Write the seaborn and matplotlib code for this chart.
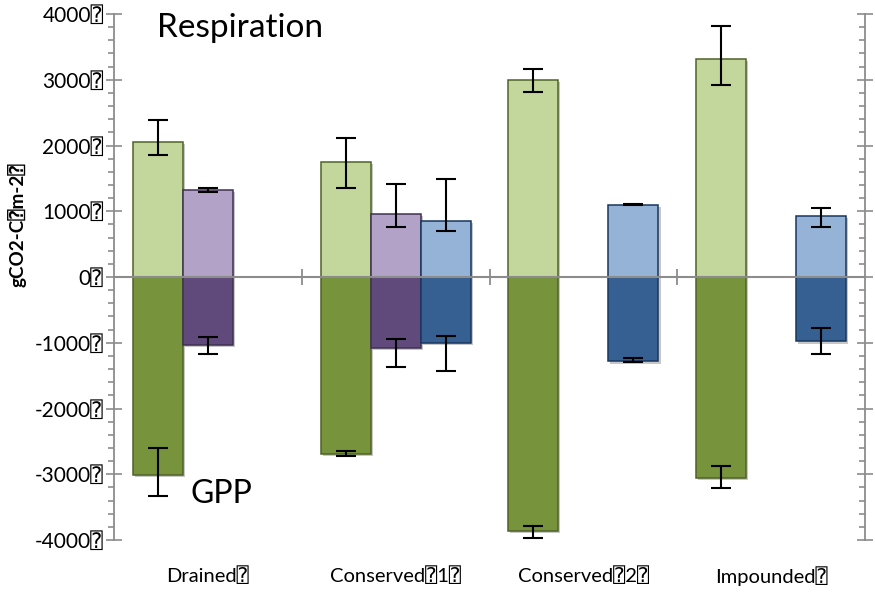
import numpy as np
import pandas as pd
import matplotlib
matplotlib.use("Agg")
import matplotlib.pyplot as plt
import matplotlib.patheffects as pe
from matplotlib.ticker import MultipleLocator, NullFormatter
from matplotlib.colors import to_hex
import seaborn as sns

nan = np.nan

# ---- data ----
categories = ["Drained", "Conserved 1", "Conserved 2", "Impounded"]
cat_labels = ["Drained\u2370", "Conserved\u23701\u2370", "Conserved\u23702\u2370", "Impounded\u2370"]
series = ["green", "purple", "blue"]

# Respiration (positive)
resp_green = [2050, 1745, 3000, 3310]
resp_green_lo = [1855, 1350, 2815, 2920]
resp_green_hi = [2390, 2110, 3170, 3820]
resp_purple = [1320, 955, nan, nan]
resp_purple_lo = [1295, 765, nan, nan]
resp_purple_hi = [1355, 1410, nan, nan]
resp_blue = [nan, 850, 1100, 930]
resp_blue_lo = [nan, 705, 1095, 755]
resp_blue_hi = [nan, 1490, 1105, 1045]

# GPP (negative)
gpp_green = [-3010, -2685, -3860, -3050]
gpp_green_lo = [-3335, -2715, -3965, -3215]
gpp_green_hi = [-2600, -2640, -3780, -2880]
gpp_purple = [-1035, -1085, nan, nan]
gpp_purple_lo = [-1175, -1370, nan, nan]
gpp_purple_hi = [-920, -950, nan, nan]
gpp_blue = [nan, -1000, -1285, -980]
gpp_blue_lo = [nan, -1425, -1290, -1170]
gpp_blue_hi = [nan, -890, -1230, -775]

y_ticks_vals = [-4000, -3000, -2000, -1000, 0, 1000, 2000, 3000, 4000]
y_tick_labels = [f"{v}\u2370" for v in y_ticks_vals]

# ---- styles ----
pos_palette = {"green": "#C3D69B", "purple": "#B3A2C7", "blue": "#95B3D7"}
neg_palette = {"green": "#77933C", "purple": "#604A7B", "blue": "#366092"}
edge_colors = {"green": "#4F6228", "purple": "#3F3151", "blue": "#17375E"}
GRAY = "#8C8C8C"


def build(kind, vals, los, his):
    rows = []
    for s, v, lo, hi in zip(series, vals, los, his):
        for i, c in enumerate(categories):
            if not np.isnan(v[i]):
                rows.append(dict(category=c, series=s, value=v[i], lo=lo[i], hi=hi[i], kind=kind))
    return rows


rows = build("resp", [resp_green, resp_purple, resp_blue],
             [resp_green_lo, resp_purple_lo, resp_blue_lo],
             [resp_green_hi, resp_purple_hi, resp_blue_hi])
rows += build("gpp", [gpp_green, gpp_purple, gpp_blue],
              [gpp_green_lo, gpp_purple_lo, gpp_blue_lo],
              [gpp_green_hi, gpp_purple_hi, gpp_blue_hi])
df = pd.DataFrame(rows)

plt.rcParams["font.family"] = ["Lato", "DejaVu Sans", "DejaVu Sans Mono", "Noto Sans"]

fig = plt.figure(figsize=(8.75, 5.92), dpi=100)
ax = fig.add_axes([114 / 875, 1 - 540 / 592, 751 / 875, 526 / 592])

for kind, pal in (("resp", pos_palette), ("gpp", neg_palette)):
    sub = df[df["kind"] == kind]
    sns.barplot(data=sub, x="category", y="value", hue="series", order=categories,
                hue_order=series, palette=pal, dodge=True, width=0.8, errorbar=None,
                saturation=1, legend=False, ax=ax, zorder=2)

color_to_series = {}
for s in series:
    color_to_series[to_hex(pos_palette[s])] = s
    color_to_series[to_hex(neg_palette[s])] = s

for p in ax.patches:
    s = color_to_series.get(to_hex(p.get_facecolor()))
    if s is None:
        continue
    p.set_edgecolor(edge_colors[s])
    p.set_linewidth(1.1)
    p.set_path_effects([pe.SimplePatchShadow(offset=(1.5, -1.5), shadow_rgbFace=(0, 0, 0), alpha=0.22),
                        pe.Normal()])
    cx = p.get_x() + p.get_width() / 2
    ci = int(round(cx))
    kind = "resp" if p.get_height() + p.get_y() > 0 else "gpp"
    r = df[(df["category"] == categories[ci]) & (df["series"] == s) & (df["kind"] == kind)].iloc[0]
    ax.errorbar([cx], [r["value"]], yerr=[[r["value"] - r["lo"]], [r["hi"] - r["value"]]],
                fmt="none", ecolor="black", elinewidth=1.5, capsize=7.5, capthick=1.5, zorder=6)

ax.set_xlim(-0.5, 3.5)
ax.set_ylim(-4000, 4000)
ax.set_xlabel("")
ax.set_xticks(range(len(categories)))
ax.set_xticklabels(cat_labels, fontsize=14.5)
ax.tick_params(axis="x", length=0, pad=19)

ax.yaxis.set_major_locator(MultipleLocator(1000))
ax.yaxis.set_minor_locator(MultipleLocator(200))
ax.set_yticks(y_ticks_vals)
ax.set_yticklabels(y_tick_labels, fontsize=15)
ax.tick_params(axis="y", which="major", direction="inout", length=11, width=1.2, color=GRAY, pad=2)
ax.tick_params(axis="y", which="minor", direction="out", length=4.5, width=1.2, color=GRAY)

for side in ("top", "bottom", "right"):
    ax.spines[side].set_visible(False)
ax.spines["left"].set_color(GRAY)
ax.spines["left"].set_linewidth(1.3)

ax.set_ylabel("gCO2-C\u2370m-2\u2370", fontsize=13.5, fontweight="bold")
ax.yaxis.set_label_coords(-0.117, 0.6)

# right axis
ax2 = ax.twinx()
ax2.set_ylim(-4000, 4000)
ax2.yaxis.set_major_locator(MultipleLocator(1000))
ax2.yaxis.set_minor_locator(MultipleLocator(200))
ax2.yaxis.set_major_formatter(NullFormatter())
ax2.tick_params(axis="y", which="major", direction="inout", length=12, width=1.2, color=GRAY)
ax2.tick_params(axis="y", which="minor", direction="in", length=4.5, width=1.2, color=GRAY)
for side in ("top", "bottom", "left"):
    ax2.spines[side].set_visible(False)
ax2.spines["right"].set_color(GRAY)
ax2.spines["right"].set_linewidth(1.3)

# zero line with category separators
sec = ax.secondary_xaxis(0.5)
sec.set_xticks([0.5, 1.5, 2.5])
sec.set_xticklabels(["", "", ""])
sec.tick_params(direction="inout", length=12, width=1.3, color=GRAY)
for sp in sec.spines.values():
    sp.set_color(GRAY)
    sp.set_linewidth(1.5)
sec.set_zorder(10)

ax.text(-0.27, 3656, "Respiration", fontsize=24, ha="left", va="baseline")
ax.text(-0.095, -3443, "GPP", fontsize=23, ha="left", va="baseline")

fig.savefig("out.png", dpi=100)
